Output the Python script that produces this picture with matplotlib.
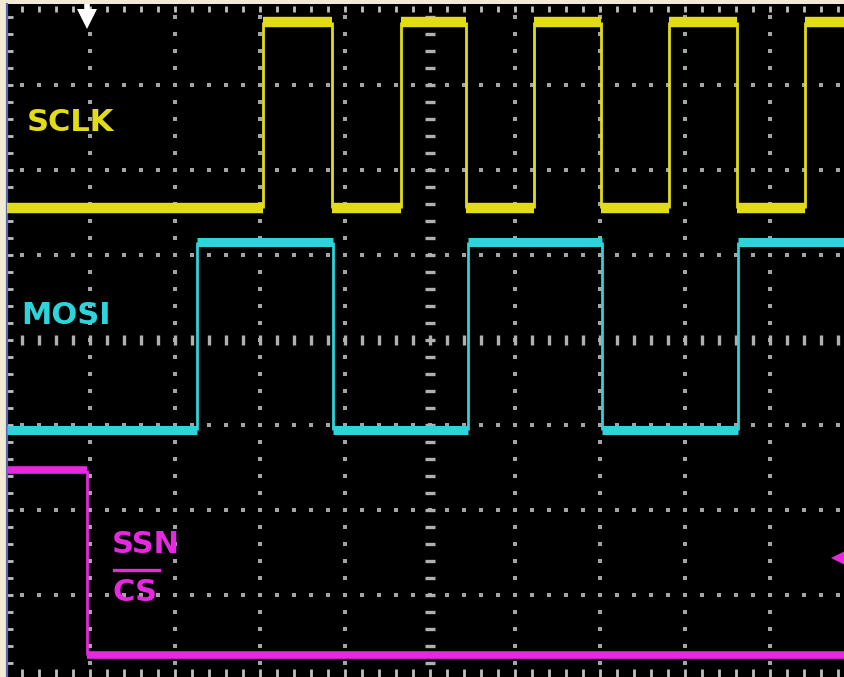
import numpy as np
import matplotlib
matplotlib.use("Agg")
from matplotlib import pyplot as plt

# screen is 10 x 8 divisions, centre of graticule = (0, 0)
# SCLK: starts low, toggles at each edge time (divisions)
sclk_edges = [-1.96, -1.15, -0.34, 0.42, 1.22, 2.01, 2.81, 3.61, 4.41]
sclk_low, sclk_high = 1.55, 3.74

# MOSI: starts low
mosi_edges = [-2.74, -1.14, 0.45, 2.02, 3.62]
mosi_low, mosi_high = -1.06, 1.15

# SSN / CS: starts high, falls at trigger point
ssn_edges = [-4.03]
ssn_high, ssn_low = -1.53, -3.71

trig_x = -4.03
gnd_ssn = -2.56

yellow = '#e2dc18'
cyan = '#2cd4dc'
magenta = '#e628e0'
dotc = '#a4a4a4'

x0, x1 = -4.976, 4.882
y0, y1 = -3.965, 3.953


def trace(ax, edges, start, other, color, lw_level):
    t = [x0] + list(edges) + [x1 + 0.1]
    lev = start
    for i in range(len(t) - 1):
        ax.plot([t[i], t[i + 1]], [lev, lev], color=color, lw=lw_level,
                solid_capstyle='butt', zorder=4)
        nxt = other if lev == start else start
        if i < len(t) - 2:
            ax.plot([t[i + 1], t[i + 1]], [lev, nxt], color=color, lw=2.0,
                    solid_capstyle='butt', zorder=4)
        lev = nxt


fig = plt.figure(figsize=(8.45, 6.77), dpi=100, facecolor='#f3ead6')
ax = fig.add_axes([7 / 845, 0, 838 / 845, 673 / 677])
ax.set_facecolor('black')
ax.set_xlim(x0, x1)
ax.set_ylim(y0, y1)
ax.set_xticks([])
ax.set_yticks([])
for s in ['top', 'right', 'bottom']:
    ax.spines[s].set_visible(False)
ax.spines['left'].set_color('#5b68b4')
ax.spines['left'].set_linewidth(1.6)

# dotted graticule
fine_x = np.arange(-5, 5.01, 0.2)
fine_y = np.arange(-4, 4.01, 0.2)
for gx in range(-4, 5):
    if gx == 0:
        continue
    ax.plot(np.full(len(fine_y), gx), fine_y, 's', color=dotc, ms=2.6, mew=0, zorder=1)
for gy in range(-3, 4):
    if gy == 0:
        continue
    ax.plot(fine_x, np.full(len(fine_x), gy), 's', color=dotc, ms=2.6, mew=0, zorder=1)

# centre axes with tick marks
ax.plot(fine_x, np.zeros(len(fine_x)), '|', color='#b0b0b0', ms=7, mew=2.4, zorder=1)
ax.plot(np.zeros(len(fine_y)), fine_y, '_', color='#b0b0b0', ms=7, mew=2.4, zorder=1)

# border ticks
ax.plot(np.full(len(fine_y), -4.94), fine_y, '_', color='#c0c0c0', ms=5, mew=2.0, zorder=1)
ax.plot(fine_x, np.full(len(fine_x), 3.9), '|', color='#c0c0c0', ms=5, mew=2.0, zorder=1)
ax.plot(fine_x, np.full(len(fine_x), -3.92), '|', color='#c0c0c0', ms=6, mew=2.0, zorder=1)

# waveforms
trace(ax, sclk_edges, sclk_low, sclk_high, yellow, 7.5)
trace(ax, mosi_edges, mosi_low, mosi_high, cyan, 6.5)
trace(ax, ssn_edges, ssn_high, ssn_low, magenta, 5.5)

# labels
font = dict(family='DejaVu Sans', fontsize=22, fontweight='bold', va='center', ha='left', zorder=5)
ax.text(-4.74, 2.56, 'SCLK', color=yellow, **font)
ax.text(-4.81, 0.29, 'MOSI', color=cyan, **font)
ax.text(-3.74, -2.41, 'SSN', color=magenta, **font)
ax.text(-3.74, -2.97, 'CS', color=magenta, **font)
ax.plot([-3.72, -3.19], [-2.71, -2.71], color=magenta, lw=2.4, zorder=5)

# trigger marker and ground reference
ax.plot([trig_x], [3.78], 'v', color='white', ms=15, mew=0, zorder=6)
ax.plot([trig_x, trig_x], [3.8, 3.97], color='white', lw=4, zorder=6)
ax.plot([4.88], [gnd_ssn], '<', color=magenta, ms=20, mew=0, zorder=6)

fig.savefig('out.png', dpi=100, facecolor=fig.get_facecolor())
